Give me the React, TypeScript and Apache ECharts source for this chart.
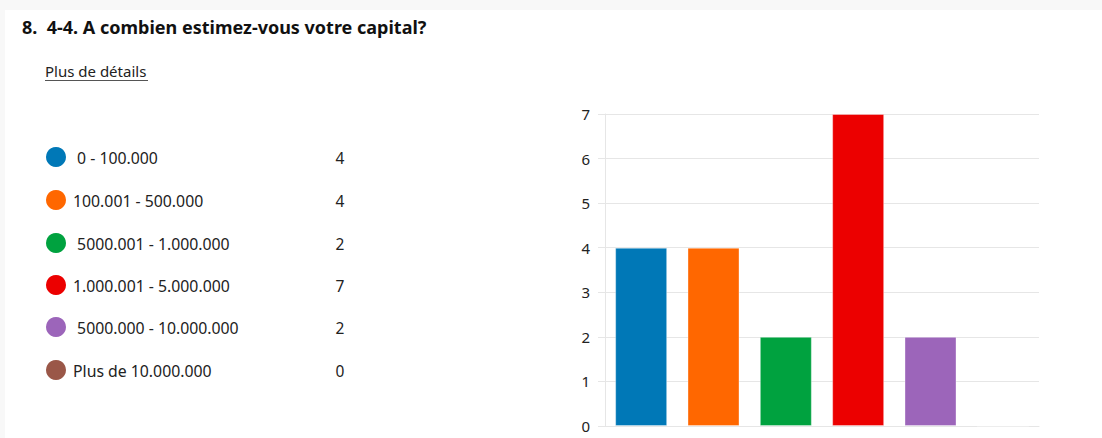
import React, { useEffect, useRef } from "react";
import * as echarts from "echarts";

const categories = [
  "0 - 100.000",
  "100.001 - 500.000",
  "5000.001 - 1.000.000",
  "1.000.001 - 5.000.000",
  "5000.000 - 10.000.000",
  "Plus de 10.000.000",
];
const legendLabels = [
  " 0 - 100.000",
  "100.001 - 500.000",
  " 5000.001 - 1.000.000",
  "1.000.001 - 5.000.000",
  " 5000.000 - 10.000.000",
  "Plus de 10.000.000",
];
const values = [4, 4, 2, 7, 2, 0];
const colors = ["#0078B7", "#FF6700", "#00A23F", "#EC0000", "#9C65BA", "#9A5748"];
const yTicks = [0, 1, 2, 3, 4, 5, 6, 7];

const FONT = "'Noto Sans', 'Open Sans', sans-serif";

export default function App() {
  const ref = useRef<HTMLDivElement>(null);
  useEffect(() => {
    if (!ref.current) return;
    const chart = echarts.init(ref.current, undefined, { renderer: "svg" });
    const rowY = [157, 200, 243, 285, 327, 370];
    const legendEls: any[] = [];
    categories.forEach((c, i) => {
      legendEls.push({
        type: "circle",
        shape: { cx: 56, cy: rowY[i], r: 10 },
        style: { fill: colors[i] },
      });
      legendEls.push({
        type: "text",
        x: 73,
        y: rowY[i] + 0.5,
        style: {
          text: legendLabels[i],
          font: `15.8px ${FONT}`,
          fill: "#222",
          verticalAlign: "middle",
        },
      });
      legendEls.push({
        type: "text",
        x: 340,
        y: rowY[i] + 0.5,
        style: {
          text: String(values[i]),
          font: `15.5px ${FONT}`,
          fill: "#222",
          verticalAlign: "middle",
          align: "center",
        },
      });
    });
    chart.setOption({
      animation: false,
      backgroundColor: "#f8f8f8",
      graphic: [
        { type: "rect", shape: { x: 5, y: 10, width: 1097, height: 428 }, style: { fill: "#fff" }, z: -10 },
        {
          type: "text",
          x: 22,
          y: 27,
          style: {
            text: "8.  4-4. A combien estimez-vous votre capital?",
            font: `bold 18px ${FONT}`,
            fill: "#111",
            verticalAlign: "middle",
          },
        },
        {
          type: "text",
          x: 45,
          y: 71,
          style: {
            text: "Plus de détails",
            font: `15px ${FONT}`,
            fill: "#222",
            verticalAlign: "middle",
          },
        },
        {
          type: "line",
          shape: { x1: 45, y1: 80.5, x2: 148, y2: 80.5 },
          style: { stroke: "#555", lineWidth: 1 },
        },
        ...legendEls,
      ],
      grid: { left: 605, right: 63, top: 114, bottom: 12, containLabel: false },
      xAxis: {
        type: "category",
        data: categories,
        axisLine: { show: true, lineStyle: { color: "#e6e6e6" } },
        axisTick: { show: false },
        axisLabel: { show: false },
      },
      yAxis: {
        type: "value",
        min: 0,
        max: yTicks[yTicks.length - 1],
        interval: 1,
        axisLine: { show: true, lineStyle: { color: "#e6e6e6" } },
        axisTick: { show: true, length: 7, lineStyle: { color: "#e6e6e6" } },
        splitLine: { lineStyle: { color: "#e6e6e6" } },
        axisLabel: { margin: 15, color: "#222", fontSize: 15, fontFamily: FONT },
      },
      series: [
        {
          type: "bar",
          barWidth: 52,
          data: values.map((v, i) => ({
            value: v,
            itemStyle: { color: colors[i], borderColor: "rgba(255,255,255,0.35)", borderWidth: 1 },
          })),
        },
      ],
    });
    return () => chart.dispose();
  }, []);
  return (
    <div
      ref={ref}
      style={{ position: "fixed", left: 0, top: 0, width: 1102, height: 438 }}
    />
  );
}
